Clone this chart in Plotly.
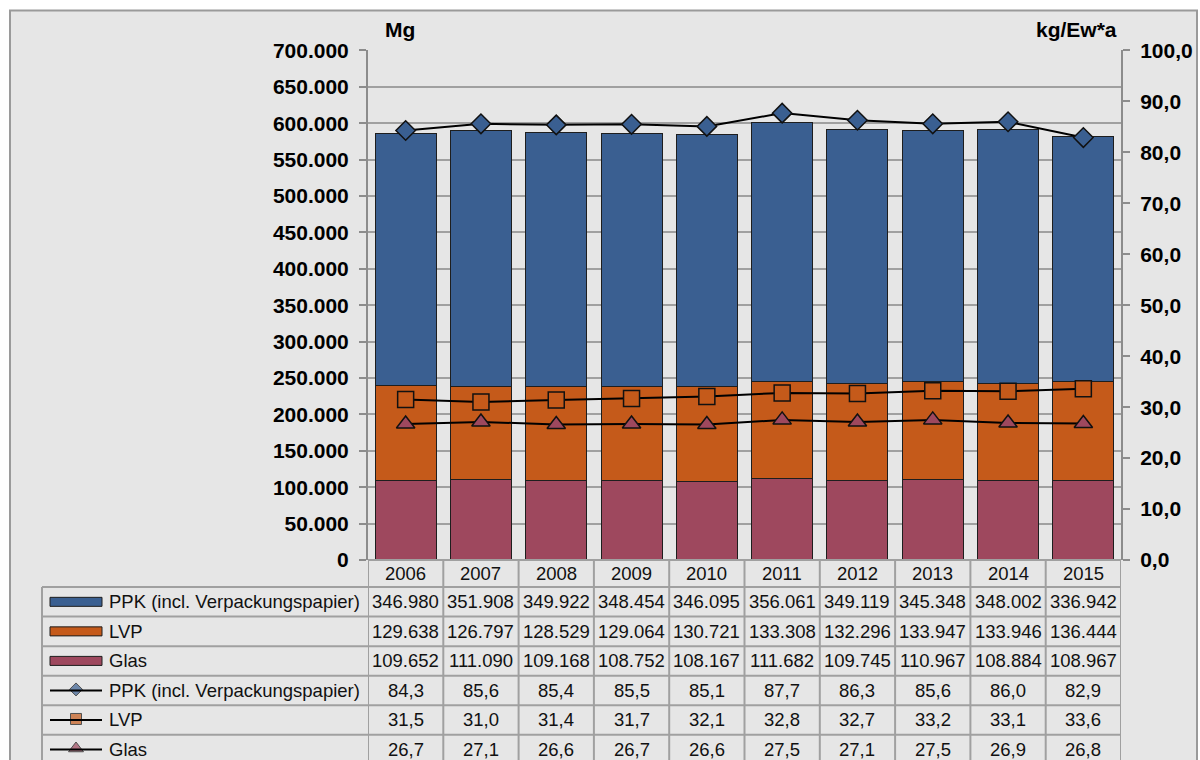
import plotly.graph_objects as go

# ---------------- data ----------------
years = ["2006", "2007", "2008", "2009", "2010", "2011", "2012", "2013", "2014", "2015"]
ppk_mg = [346980, 351908, 349922, 348454, 346095, 356061, 349119, 345348, 348002, 336942]
lvp_mg = [129638, 126797, 128529, 129064, 130721, 133308, 132296, 133947, 133946, 136444]
glas_mg = [109652, 111090, 109168, 108752, 108167, 111682, 109745, 110967, 108884, 108967]
ppk_kg = [84.3, 85.6, 85.4, 85.5, 85.1, 87.7, 86.3, 85.6, 86.0, 82.9]
lvp_kg = [31.5, 31.0, 31.4, 31.7, 32.1, 32.8, 32.7, 33.2, 33.1, 33.6]
glas_kg = [26.7, 27.1, 26.6, 26.7, 26.6, 27.5, 27.1, 27.5, 26.9, 26.8]

name_ppk = "PPK (incl. Verpackungspapier)"
name_lvp = "LVP"
name_glas = "Glas"

# ---------------- styles ----------------
W, H = 1200, 760
C_PPK = "#3A5F91"
C_LVP = "#C55A1A"
C_GLAS = "#9E485E"
BG = "#E6E6E6"
GRID = "#A0A0A0"
FONT = "Liberation Sans, Arial, sans-serif"

# vertical calibration of the rendered page (screen_y = VA + VB * design_y)
VA, VB = 11.6, 0.9686


def X(px):
    return px / W


def Y(screen_py):
    return 1 - ((screen_py - VA) / VB) / H


PLOT_L, PLOT_R, PLOT_T, PLOT_B = 368, 1121, 50, 559

fig = go.Figure()

# stacked bars (Mg)
for name, vals, col in [(name_glas, glas_mg, C_GLAS), (name_lvp, lvp_mg, C_LVP), (name_ppk, ppk_mg, C_PPK)]:
    fig.add_trace(go.Bar(
        x=years, y=vals, name=name, marker=dict(color=col, line=dict(color="#1E1E1E", width=1)),
        xaxis="x", yaxis="y", showlegend=False,
    ))

# lines (kg/Ew*a)
for name, vals, col, sym, size in [
    (name_ppk, ppk_kg, C_PPK, "diamond", 15),
    (name_lvp, lvp_kg, C_LVP, "square", 16),
    (name_glas, glas_kg, C_GLAS, "triangle-up", 16),
]:
    fig.add_trace(go.Scatter(
        x=years, y=vals, name=name, mode="lines+markers",
        line=dict(color="#000000", width=2),
        marker=dict(symbol=sym, size=size, color=col, line=dict(color="#111111", width=1.5)),
        xaxis="x", yaxis="y2", showlegend=False,
    ))

shapes = []
annotations = []

# outer frame
shapes.append(dict(type="rect", xref="paper", yref="paper", x0=X(10), x1=X(1197), y0=Y(10), y1=Y(775),
                   fillcolor=BG, line=dict(color="#9A9A9A", width=2), layer="below"))

# table geometry
row_edges = [586 + i * 29.5 for i in range(7)]
row_centers = [(row_edges[i] + row_edges[i + 1]) / 2 for i in range(6)]
TBL_L = 42
LINE_C = GRID
LW = 2

for k in range(len(years) + 1):
    shapes.append(dict(type="line", xref="x", yref="paper", x0=k - 0.5, x1=k - 0.5,
                       y0=Y(PLOT_B), y1=Y(row_edges[-1]), line=dict(color=LINE_C, width=LW)))
shapes.append(dict(type="line", xref="paper", yref="paper", x0=X(TBL_L), x1=X(TBL_L),
                   y0=Y(row_edges[0]), y1=Y(row_edges[-1]), line=dict(color=LINE_C, width=LW)))
shapes.append(dict(type="line", xref="paper", yref="paper", x0=X(PLOT_L), x1=X(PLOT_R),
                   y0=Y(PLOT_B), y1=Y(PLOT_B), line=dict(color=LINE_C, width=LW)))
for e in row_edges:
    shapes.append(dict(type="line", xref="paper", yref="paper", x0=X(TBL_L), x1=X(PLOT_R),
                       y0=Y(e), y1=Y(e), line=dict(color=LINE_C, width=LW)))

TFONT = dict(family=FONT, size=18.5, color="#111111")

for i, yr in enumerate(years):
    annotations.append(dict(x=i, y=Y((PLOT_B + row_edges[0]) / 2), xref="x", yref="paper", text=yr,
                            showarrow=False, font=TFONT, xanchor="center", yanchor="middle"))


def fmt_mg(v):
    return f"{v:,}".replace(",", ".")


def fmt_kg(v):
    return f"{v:.1f}".replace(".", ",")


rows = [
    (name_ppk, ppk_mg, fmt_mg, "bar", C_PPK, None),
    (name_lvp, lvp_mg, fmt_mg, "bar", C_LVP, None),
    (name_glas, glas_mg, fmt_mg, "bar", C_GLAS, None),
    (name_ppk, ppk_kg, fmt_kg, "line", C_PPK, "diamond"),
    (name_lvp, lvp_kg, fmt_kg, "line", C_LVP, "square"),
    (name_glas, glas_kg, fmt_kg, "line", C_GLAS, "triangle-up"),
]

leg_x, leg_y, leg_sym, leg_col = [], [], [], []
for r, (label, vals, fmt, kind, col, sym) in enumerate(rows):
    yc = row_centers[r]
    annotations.append(dict(x=X(107), y=Y(yc), xref="paper", yref="paper", text=label, showarrow=False,
                            font=TFONT, xanchor="left", yanchor="middle"))
    for i, v in enumerate(vals):
        annotations.append(dict(x=i, y=Y(yc), xref="x", yref="paper", text=fmt(v), showarrow=False,
                                font=TFONT, xanchor="center", yanchor="middle"))
    if kind == "bar":
        shapes.append(dict(type="rect", xref="paper", yref="paper", x0=X(50), x1=X(102),
                           y0=Y(yc - 4.5), y1=Y(yc + 4.5), fillcolor=col,
                           line=dict(color="#1E1E1E", width=1)))
    else:
        shapes.append(dict(type="line", xref="paper", yref="paper", x0=X(50), x1=X(102),
                           y0=Y(yc), y1=Y(yc), line=dict(color="#000000", width=2)))
        leg_x.append(X(76))
        leg_y.append(Y(yc - 1))
        leg_sym.append(sym)
        leg_col.append(col)

fig.add_trace(go.Scatter(
    x=leg_x, y=leg_y, mode="markers", xaxis="x3", yaxis="y3", showlegend=False, hoverinfo="skip",
    cliponaxis=False,
    marker=dict(symbol=leg_sym, size=[10, 11, 13], color=leg_col, line=dict(color="#111111", width=1)),
))

TITLE_FONT = dict(family=FONT, size=21, color="#000000", weight="bold")
annotations.append(dict(x=X(383), y=Y(29), xref="paper", yref="paper", text="Mg", showarrow=False,
                        font=TITLE_FONT, xanchor="left", yanchor="middle"))
annotations.append(dict(x=X(1119), y=Y(29), xref="paper", yref="paper", text="kg/Ew*a", showarrow=False,
                        font=TITLE_FONT, xanchor="right", yanchor="middle"))

TICK_FONT = dict(family=FONT, size=21, color="#000000", weight="bold")

fig.update_layout(
    width=W, height=H,
    margin=dict(l=0, r=0, t=0, b=0),
    paper_bgcolor="#FFFFFF",
    plot_bgcolor="rgba(0,0,0,0)",
    separators=",.",
    barmode="stack",
    bargap=0.19,
    showlegend=False,
    xaxis=dict(domain=[X(PLOT_L), X(PLOT_R)], type="category", range=[-0.5, 9.5],
               showticklabels=False, showgrid=False, zeroline=False, showline=False, ticks=""),
    yaxis=dict(domain=[Y(PLOT_B), Y(PLOT_T)], range=[0, 700000], dtick=50000, tickformat=",d",
               showgrid=True, gridcolor=GRID, gridwidth=2, zeroline=False,
               showline=True, linecolor="#8C8C8C", linewidth=2,
               ticks="outside", ticklen=7, tickcolor="#8C8C8C", tickwidth=2,
               tickfont=TICK_FONT, ticklabelstandoff=6),
    yaxis2=dict(overlaying="y", side="right", anchor="x", range=[0, 100], dtick=10, tickformat=".1f",
                showgrid=False, zeroline=False,
                showline=True, linecolor="#8C8C8C", linewidth=2,
                ticks="outside", ticklen=7, tickcolor="#8C8C8C", tickwidth=2,
                tickfont=TICK_FONT, ticklabelstandoff=6),
    xaxis3=dict(domain=[0, 1], range=[0, 1], anchor="y3", visible=False, fixedrange=True),
    yaxis3=dict(domain=[0, 1], range=[0, 1], anchor="x3", visible=False, fixedrange=True),
    shapes=shapes,
    annotations=annotations,
)

post = (
    "var d=document.getElementById('{plot_id}');"
    "d.style.position='fixed';d.style.top='0px';d.style.left='0px';"
    "document.body.style.margin='0';document.body.style.overflow='hidden';"
    "document.documentElement.style.overflow='hidden';"
)
fig.write_html("out.html", config={"displayModeBar": False}, post_script=post)
